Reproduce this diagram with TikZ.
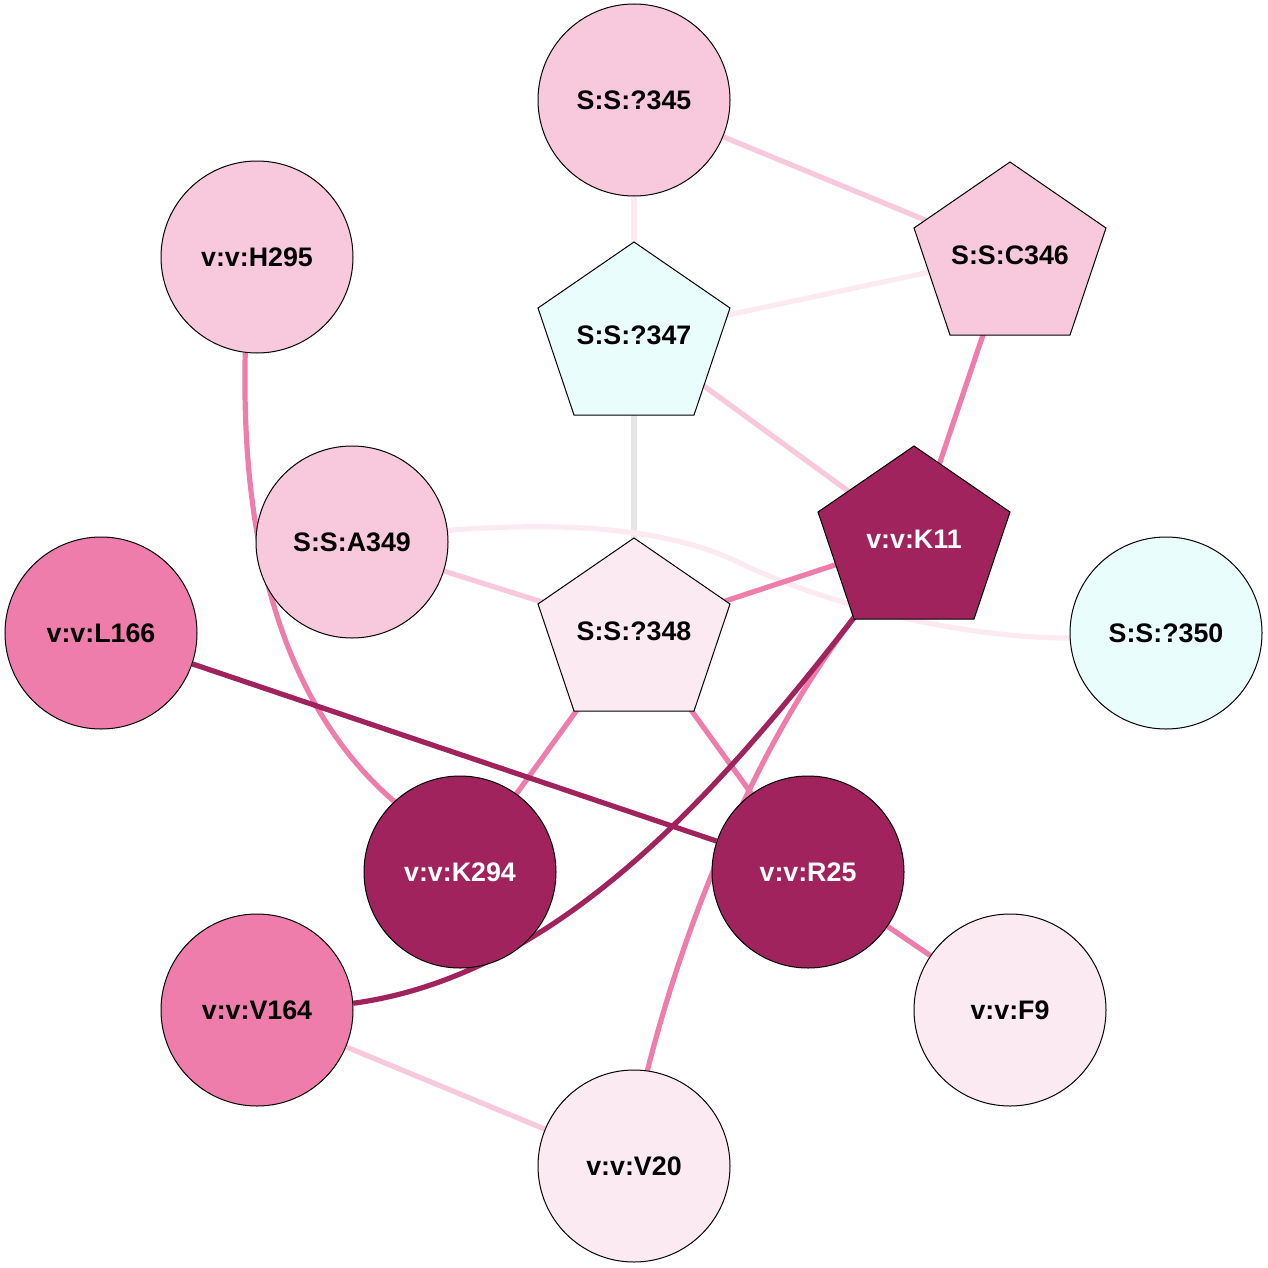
\documentclass[tikz,border=0pt]{standalone}
\usepackage{fontspec}
\setmainfont{Liberation Sans}
\usetikzlibrary{backgrounds,calc}
\definecolor{lp}{HTML}{F8C8DD}
\definecolor{vlp}{HTML}{FBEAF2}
\definecolor{mp}{HTML}{EF7DAB}
\definecolor{dk}{HTML}{A0235E}
\definecolor{cy}{HTML}{E8FDFC}
\definecolor{gr}{HTML}{E5E5E5}
\tikzset{
  lblfont/.style={font=\fontsize{13.4}{15}\selectfont\bfseries},
  cnode/.style={circle, draw=black, line width=0.5pt, minimum size=96pt, inner sep=0pt, lblfont},
  plabel/.style={inner sep=1pt, lblfont},
  pentshape/.style={draw=black, line width=0.5pt},
  edge/.style={line width=2.6pt},
}
\newcommand\PentNode[6]{%
  \filldraw[pentshape, fill=#4, shift={(#2,#3)}] (0,-93) -- (96,-27) -- (60,80) -- (-60,80) -- (-96,-27) -- cycle;
  \node[plabel, text=#5] (#1) at (#2,#3) {#6};
}
\begin{document}
\begin{tikzpicture}[x=0.5pt,y=-0.5pt]
\useasboundingbox (0,0) rectangle (1268,1268);
\node[cnode, fill=lp] (s345) at (634,100) {S:S:?345};
\PentNode{s346}{1010}{255}{lp}{black}{S:S:C346}
\PentNode{s347}{634}{335}{cy}{black}{S:S:?347}
\node[cnode, fill=lp] (h295) at (257,257) {v:v:H295};
\node[cnode, fill=lp] (a349) at (352,542) {S:S:A349};
\PentNode{k11}{914}{539}{dk}{white}{v:v:K11}
\node[cnode, fill=cy] (s350) at (1166,633) {S:S:?350};
\node[cnode, fill=mp] (l166) at (101,633) {v:v:L166};
\PentNode{s348}{634}{631}{vlp}{black}{S:S:?348}
\node[cnode, fill=dk, text=white] (k294) at (460,872) {v:v:K294};
\node[cnode, fill=dk, text=white] (r25) at (808,872) {v:v:R25};
\node[cnode, fill=mp] (v164) at (257,1010) {v:v:V164};
\node[cnode, fill=vlp] (f9) at (1010,1010) {v:v:F9};
\node[cnode, fill=vlp] (v20) at (634,1166) {v:v:V20};
\begin{pgfonlayer}{background}
\draw[edge, vlp] (s345) -- (s347);
\draw[edge, lp] (s345) -- (s346);
\draw[edge, vlp] (s347) -- (s346);
\draw[edge, lp] (s347) -- (k11);
\draw[edge, gr] (s347) -- (s348);
\draw[edge, mp] (s346) -- (k11);
\draw[edge, lp] (a349) -- (s348);
\draw[edge, mp] (h295.263) .. controls (240,580) and (300,720) .. (k294.133);
\draw[edge, lp] (v164) -- (v20);
\draw[edge, mp] (s348) -- (k294);
\draw[edge, mp] (s348) -- (r25);
\draw[edge, mp] (r25) -- (f9);
\draw[edge, mp] ([shift={(-58,76)}]k11.center) .. controls (755,745) and (684,925) .. (v20.82);
\draw[edge, dk] ([shift={(-58,76)}]k11.center) .. controls (720,790) and (560,975) .. (v164.4);
\draw[edge, dk] (l166) -- (r25);
\draw[edge, vlp] (a349.7) .. controls (548,523) and (660,524) .. (740,563) .. controls (820,602) and (955,638) .. (s350.183);
\draw[edge, mp] (k11) -- (s348);
\end{pgfonlayer}
\end{tikzpicture}
\end{document}
